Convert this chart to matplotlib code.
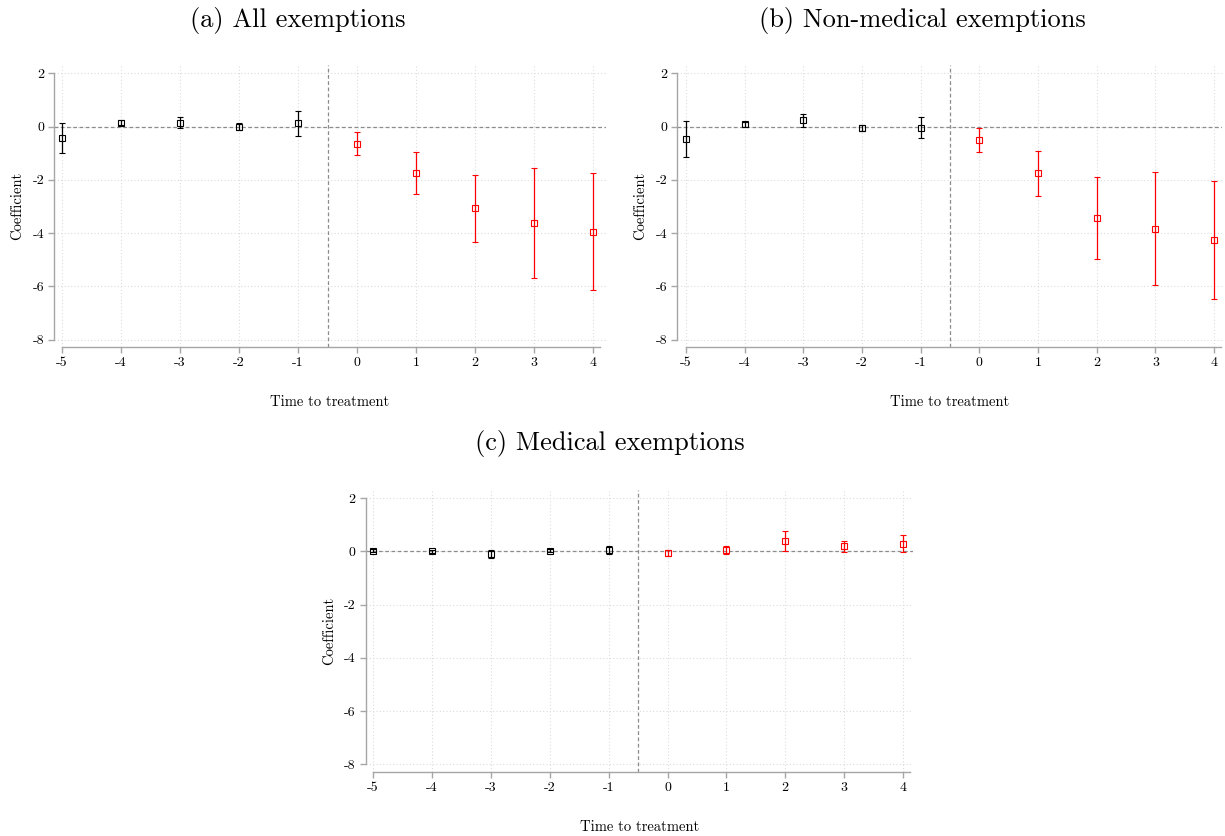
import matplotlib
matplotlib.use("Agg")
import matplotlib.pyplot as plt

plt.rcParams['font.family'] = ['cmr10', 'DejaVu Serif']
plt.rcParams['axes.unicode_minus'] = False

periods = [-5, -4, -3, -2, -1, 0, 1, 2, 3, 4]
tick_labels = ["-5", "-4", "-3", "-2", "-1", "0", "1", "2", "3", "4"]
y_ticks = [-8, -6, -4, -2, 0, 2]
y_tick_labels = ["-8", "-6", "-4", "-2", "0", "2"]

# (a) All exemptions
all_coef = [-0.44, 0.15, 0.15, 0.00, 0.12, -0.64, -1.75, -3.07, -3.64, -3.95]
all_lo = [-1.00, 0.05, -0.06, -0.12, -0.37, -1.08, -2.55, -4.32, -5.69, -6.14]
all_hi = [0.13, 0.25, 0.35, 0.12, 0.60, -0.21, -0.94, -1.81, -1.57, -1.76]

# (b) Non-medical exemptions
nonmed_coef = [-0.46, 0.09, 0.25, -0.04, -0.04, -0.50, -1.76, -3.45, -3.83, -4.25]
nonmed_lo = [-1.15, 0.00, 0.00, -0.15, -0.44, -0.96, -2.62, -4.97, -5.95, -6.46]
nonmed_hi = [0.22, 0.17, 0.49, 0.06, 0.35, -0.04, -0.90, -1.91, -1.72, -2.04]

# (c) Medical exemptions
med_coef = [0.03, 0.00, -0.09, 0.03, 0.06, -0.06, 0.06, 0.39, 0.19, 0.29]
med_lo = [-0.04, -0.05, -0.23, -0.03, -0.09, -0.19, -0.08, 0.03, -0.01, -0.01]
med_hi = [0.08, 0.05, 0.04, 0.08, 0.22, 0.06, 0.20, 0.75, 0.41, 0.60]

# title, data, axes rect, x limits, title position (figure fraction)
panels = [
    ("(a) All exemptions", all_coef, all_lo, all_hi,
     [0.0441, 0.5849, 0.4506, 0.3373], (-5.136, 4.22), (0.2433, 0.976)),
    ("(b) Non-medical exemptions", nonmed_coef, nonmed_lo, nonmed_hi,
     [0.5527, 0.5849, 0.4449, 0.3373], (-5.153, 4.136), (0.7527, 0.976)),
    ("(c) Medical exemptions", med_coef, med_lo, med_hi,
     [0.2984, 0.0769, 0.4470, 0.3370], (-5.127, 4.17), (0.498, 0.470)),
]

grid_col = "#dcdcdc"
axis_col = "#a6a6a6"

fig = plt.figure(figsize=(12.25, 8.36), dpi=100)

for title, coef, lo, hi, pos, xlim, tpos in panels:
    ax = fig.add_axes(pos)
    ax.set_xlim(*xlim)
    ax.set_ylim(-8.28, 2.31)

    for yv in y_ticks:
        ax.axhline(yv, color=grid_col, lw=0.8, ls=(0, (1, 2)), zorder=0)
    for xv in periods:
        ax.axvline(xv, color=grid_col, lw=0.8, ls=(0, (1, 2)), zorder=0)

    ax.axhline(0, color="#8c8c8c", lw=0.9, ls=(0, (3, 2)), zorder=1)
    ax.axvline(-0.5, color="#8c8c8c", lw=0.9, ls=(0, (3, 2)), zorder=1)

    for i, t in enumerate(periods):
        col = "black" if t < 0 else "red"
        ax.errorbar([t], [coef[i]], yerr=[[coef[i] - lo[i]], [hi[i] - coef[i]]],
                    fmt="s", ms=4.3, mfc="none", mec=col, mew=0.8,
                    ecolor=col, elinewidth=0.9, capsize=2.2, capthick=0.9, zorder=3)

    for side in ["top", "right"]:
        ax.spines[side].set_visible(False)
    ax.spines["left"].set_bounds(-8, 2)
    ax.spines["bottom"].set_bounds(-5, 4.12)
    ax.spines["left"].set_color(axis_col)
    ax.spines["bottom"].set_color(axis_col)
    ax.spines["left"].set_linewidth(1.0)
    ax.spines["bottom"].set_linewidth(1.0)

    ax.set_xticks(periods)
    ax.set_xticklabels(tick_labels, fontsize=10)
    ax.set_yticks(y_ticks)
    ax.set_yticklabels(y_tick_labels, fontsize=10)
    ax.tick_params(axis="both", color=axis_col, length=4, width=1.0, pad=3)

    ax.set_xlabel("Time to treatment", fontsize=10.5, labelpad=19)
    ax.set_ylabel("Coefficient", fontsize=10.5, labelpad=6)
    fig.text(tpos[0], tpos[1], title, fontsize=19, ha="center", va="center")

fig.savefig("out.png", dpi=100)
